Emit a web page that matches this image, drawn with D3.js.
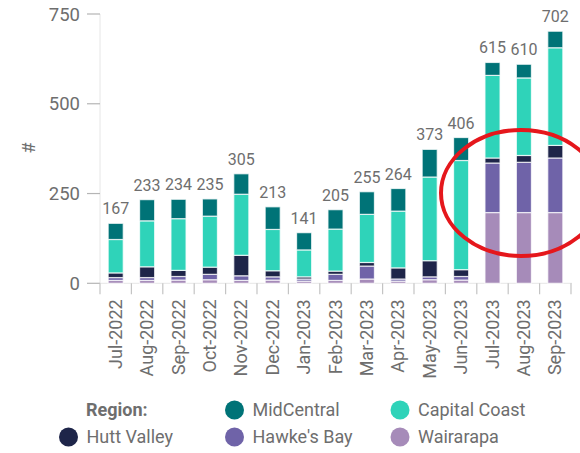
<!DOCTYPE html>
<html>
<head>
<meta charset="utf-8">
<script src="https://cdn.jsdelivr.net/npm/d3@7"></script>
<style>
  html, body { margin: 0; padding: 0; background: #fff; }
  svg { display: block; font-family: Roboto, "Noto Sans", sans-serif; }
</style>
</head>
<body>
<svg id="chart" width="580" height="453"></svg>
<script>
const months = ["Jul-2022","Aug-2022","Sep-2022","Oct-2022","Nov-2022","Dec-2022","Jan-2023","Feb-2023","Mar-2023","Apr-2023","May-2023","Jun-2023","Jul-2023","Aug-2023","Sep-2023"];
const wairarapa    = [8, 8, 9, 10, 8, 9, 6, 8, 12, 6, 10, 9, 197, 197, 197];
const hawkesBay    = [8, 8, 10, 15, 13, 9, 6, 17, 36, 6, 8, 10, 138, 140, 152];
const huttValley   = [13, 30, 17, 20, 57, 17, 6, 9, 10, 31, 45, 19, 14, 19, 35];
const capitalCoast = [93, 128, 144, 142, 170, 115, 75, 117, 134, 158, 233, 304, 230, 216, 272];
const midCentral   = [45, 59, 54, 48, 57, 63, 48, 54, 63, 63, 77, 64, 36, 38, 46];
const yTicks = [0, 250, 500, 750];

const seriesNames  = ["Wairarapa", "Hawke's Bay", "Hutt Valley", "Capital Coast", "MidCentral"];
const seriesValues = [wairarapa, hawkesBay, huttValley, capitalCoast, midCentral];
const colors = {
  "Wairarapa": "#a68bb9",
  "Hawke's Bay": "#6f63a8",
  "Hutt Valley": "#1e2549",
  "Capital Coast": "#2fd3b9",
  "MidCentral": "#007377"
};

const rows = months.map((m, i) => {
  const r = { month: m };
  seriesNames.forEach((s, j) => r[s] = seriesValues[j][i]);
  return r;
});
const totals = months.map((m, i) => seriesValues.reduce((a, s) => a + s[i], 0));

const svg = d3.select("#chart");
const x = d3.scaleBand().domain(months).range([100, 571]).paddingInner(0.52).paddingOuter(0.26);
const xb = d3.scaleBand().domain(months).range([100, 571]).padding(0);
const y = d3.scaleLinear().domain([0, 750]).range([283.3, 14]);
const textColor = "#6e6e6e";

// y axis line
svg.append("line").attr("x1", 100).attr("x2", 100).attr("y1", y(750)).attr("y2", y(0))
  .attr("stroke", "#e6e6e6").attr("stroke-width", 1);
// y ticks
const yg = svg.append("g");
yTicks.forEach(t => {
  yg.append("line").attr("x1", 87).attr("x2", 100).attr("y1", y(t)).attr("y2", y(t))
    .attr("stroke", "#b5b5b5").attr("stroke-width", 1.2);
  yg.append("text").attr("x", 80).attr("y", y(t)).attr("dy", "0.36em")
    .attr("text-anchor", "end").attr("font-size", 18.5).attr("fill", textColor).text(t);
});
// y title
svg.append("text").attr("transform", "translate(35,148) rotate(-90)")
  .attr("text-anchor", "middle").attr("font-size", 18).attr("fill", textColor).text("#");

// x axis baseline and ticks
svg.append("line").attr("x1", 100).attr("x2", 572).attr("y1", y(0)).attr("y2", y(0))
  .attr("stroke", "#e6e6e6");
const tickXs = months.map(m => xb(m)).concat([xb(months[months.length - 1]) + xb.bandwidth()]);
tickXs.forEach(tx => {
  svg.append("line").attr("x1", tx).attr("x2", tx).attr("y1", y(0)).attr("y2", y(0) + 11)
    .attr("stroke", "#c4c4c4").attr("stroke-width", 1.2);
});
// x labels
months.forEach(m => {
  svg.append("text")
    .attr("transform", `translate(${x(m) + x.bandwidth() / 2 + 6},${y(0) + 16}) rotate(-90)`)
    .attr("text-anchor", "end").attr("font-size", 18).attr("fill", textColor).text(m);
});

// stacked bars
const stack = d3.stack().keys(seriesNames)(rows);
svg.append("g").selectAll("g").data(stack).join("g")
  .attr("fill", d => colors[d.key])
  .selectAll("rect").data(d => d).join("rect")
  .attr("x", d => x(d.data.month))
  .attr("width", x.bandwidth())
  .attr("y", d => y(d[1]))
  .attr("height", d => y(d[0]) - y(d[1]))
  .attr("stroke", "#ffffff").attr("stroke-opacity", 0.75).attr("stroke-width", 1.2);

// total labels
months.forEach((m, i) => {
  svg.append("text").attr("x", x(m) + x.bandwidth() / 2).attr("y", y(totals[i]) - 9)
    .attr("text-anchor", "middle").attr("font-size", 16).attr("fill", textColor).text(totals[i]);
});

// red ellipse annotation
svg.append("ellipse").attr("cx", 521).attr("cy", 193).attr("rx", 80).attr("ry", 63)
  .attr("fill", "none").attr("stroke", "#e5171c").attr("stroke-width", 4);

// legend
const lg = svg.append("g").attr("font-size", 18).attr("fill", textColor);
lg.append("text").attr("x", 86).attr("y", 410).attr("dy", "0.35em")
  .attr("font-weight", "bold").text("Region:");
const legendItems = [
  { name: "MidCentral", cx: 234.5, cy: 410 },
  { name: "Capital Coast", cx: 400, cy: 410 },
  { name: "Hutt Valley", cx: 68.5, cy: 437 },
  { name: "Hawke's Bay", cx: 234.5, cy: 437 },
  { name: "Wairarapa", cx: 400, cy: 437 }
];
legendItems.forEach(it => {
  lg.append("circle").attr("cx", it.cx).attr("cy", it.cy).attr("r", 9.5).attr("fill", colors[it.name]);
  lg.append("text").attr("x", it.cx + 18).attr("y", it.cy).attr("dy", "0.35em").text(it.name);
});
</script>
</body>
</html>
